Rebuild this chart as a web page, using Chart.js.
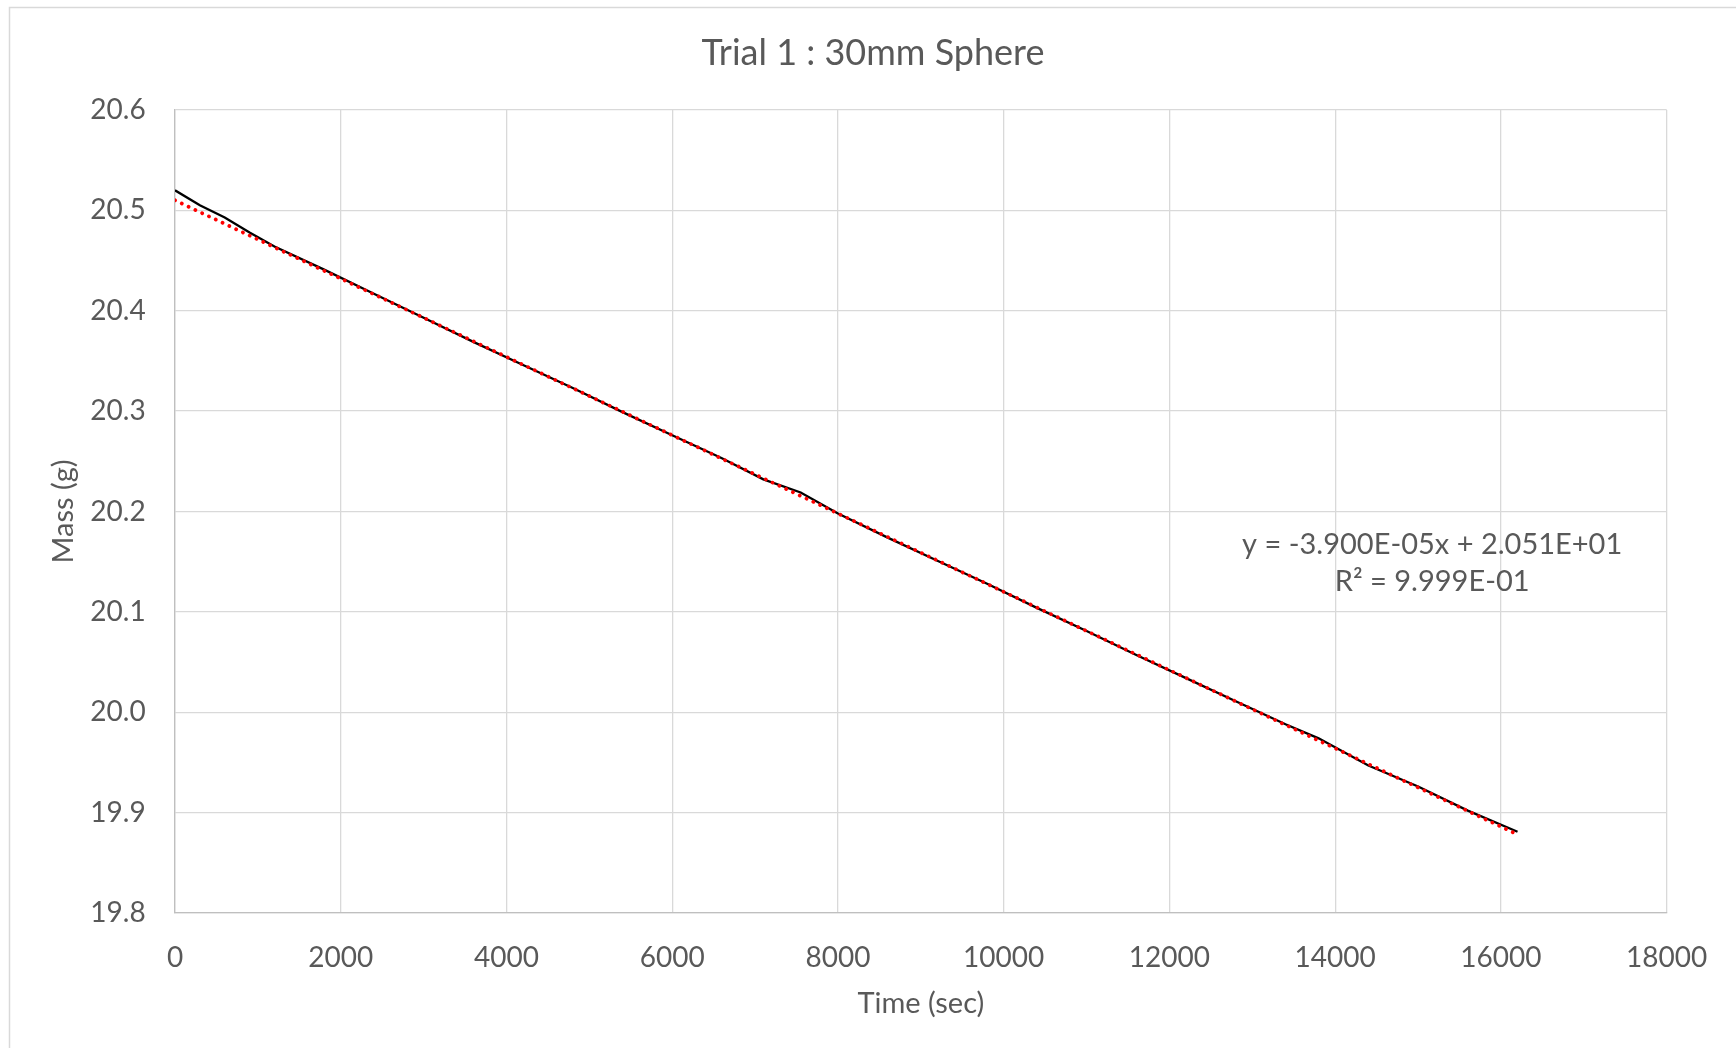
<!DOCTYPE html>
<html>
<head>
<meta charset="utf-8">
<title>Trial 1 : 30mm Sphere</title>
<script src="https://cdn.jsdelivr.net/npm/chart.js@4.4.0/dist/chart.umd.min.js"></script>
<style>
  html, body { margin: 0; padding: 0; background: #fff; }
  #wrap { width: 1736px; height: 1048px; }
</style>
</head>
<body>
<div id="wrap"><canvas id="massChart"></canvas></div>
<script>
// measured mass of the sphere over time
const timeSec = [0, 300, 600, 900, 1200, 1800, 2400, 3000, 3600, 4200, 4800, 5400, 6000, 6600,
  7100, 7550, 8000, 8600, 9200, 9800, 10400, 11000, 11600, 12200, 12800, 13400, 13800,
  14400, 15000, 15600, 16200];
const massG = [20.520, 20.505, 20.493, 20.478, 20.464, 20.441, 20.417, 20.393, 20.369, 20.346,
  20.323, 20.299, 20.276, 20.253, 20.232, 20.219, 20.198, 20.174, 20.151, 20.128, 20.104,
  20.081, 20.057, 20.034, 20.011, 19.988, 19.974, 19.947, 19.926, 19.902, 19.881];

// linear fit, same numbers as the equation label
const fitSlope = -3.900e-05;
const fitIntercept = 2.051e+01;
const fitR2 = 9.999e-01;
const fitRange = [0, 16200];

const xTickValues = [0, 2000, 4000, 6000, 8000, 10000, 12000, 14000, 16000, 18000];
const yTickValues = [19.8, 19.9, 20.0, 20.1, 20.2, 20.3, 20.4, 20.5, 20.6];

const TEXT = "#595959";
const GRID = "#d9d9d9";
const FONT = "Lato, 'Open Sans', sans-serif";

function fmtExp(v) {
  const e = Math.floor(Math.log10(Math.abs(v)));
  const m = (v / Math.pow(10, e)).toFixed(3);
  const sign = e < 0 ? "-" : "+";
  return m + "E" + sign + String(Math.abs(e)).padStart(2, "0");
}

const fitPoints = fitRange.map(x => ({ x, y: fitSlope * x + fitIntercept }));
const dataPoints = timeSec.map((t, i) => ({ x: t, y: massG[i] }));

// outer frame of the chart
const framePlugin = {
  id: "frame",
  beforeDraw(chart) {
    const ctx = chart.ctx;
    ctx.save();
    ctx.fillStyle = "#fff";
    ctx.fillRect(0, 0, chart.width, chart.height);
    ctx.strokeStyle = GRID;
    ctx.lineWidth = 1.5;
    ctx.strokeRect(9.5, 7.5, chart.width + 20, chart.height + 20);
    ctx.restore();
  }
};

// trendline equation text
const equationPlugin = {
  id: "equation",
  afterDatasetsDraw(chart) {
    const { ctx, scales } = chart;
    const px = scales.x.getPixelForValue(15170);
    const py = scales.y.getPixelForValue(20.167);
    const b = fmtExp(fitIntercept);
    ctx.save();
    ctx.font = "29px " + FONT;
    ctx.fillStyle = TEXT;
    ctx.textAlign = "center";
    ctx.textBaseline = "middle";
    ctx.fillText("y = " + fmtExp(fitSlope) + "x + " + b, px, py);
    ctx.fillText("R\u00b2 = " + fmtExp(fitR2), px, py + 37);
    ctx.restore();
  }
};

new Chart(document.getElementById("massChart"), {
  type: "scatter",
  data: {
    datasets: [
      {
        label: "Linear fit",
        data: fitPoints,
        showLine: true,
        borderColor: "#ff0000",
        borderWidth: 3.8,
        borderDash: [0.01, 7.5],
        borderCapStyle: "round",
        pointRadius: 0,
        order: 0
      },
      {
        label: "Mass",
        data: dataPoints,
        showLine: true,
        borderColor: "#000000",
        borderWidth: 2.3,
        tension: 0,
        pointRadius: 0,
        order: 1
      }
    ]
  },
  options: {
    responsive: true,
    maintainAspectRatio: false,
    animation: false,
    devicePixelRatio: 1,
    layout: { padding: { left: 10, right: 0, top: 0, bottom: 0 } },
    plugins: {
      legend: { display: false },
      tooltip: { enabled: false },
      title: {
        display: true,
        text: "Trial 1 : 30mm Sphere",
        color: TEXT,
        font: { family: FONT, size: 36, weight: "normal" },
        padding: { top: 31.4, bottom: 35.4 }
      }
    },
    scales: {
      x: {
        type: "linear",
        min: 0,
        max: 18000,
        afterBuildTicks: s => { s.ticks = xTickValues.map(v => ({ value: v })); },
        afterFit: s => { s.height = 135; },
        grid: { color: GRID, lineWidth: 1.3, drawTicks: false },
        border: { color: "#bfbfbf", width: 1.3 },
        ticks: {
          color: TEXT,
          font: { family: FONT, size: 28 },
          padding: 28,
          maxRotation: 0,
          callback: v => String(v)
        },
        title: {
          display: true,
          text: "Time (sec)",
          color: TEXT,
          font: { family: FONT, size: 29 },
          padding: { top: 0, bottom: 26.6 }
        }
      },
      y: {
        type: "linear",
        min: 19.8,
        max: 20.6,
        afterBuildTicks: s => { s.ticks = yTickValues.map(v => ({ value: v })); },
        afterFit: s => { s.width = 165; },
        grid: { color: GRID, lineWidth: 1.3, drawTicks: false },
        border: { color: "#bfbfbf", width: 1.3 },
        ticks: {
          color: TEXT,
          font: { family: FONT, size: 28 },
          padding: 29.3,
          callback: v => Number(v).toFixed(1)
        },
        title: {
          display: true,
          text: "Mass (g)",
          color: TEXT,
          font: { family: FONT, size: 29 },
          padding: { top: 36.6, bottom: 0 }
        }
      },
      // empty right-hand gutter
      yRight: {
        type: "linear",
        position: "right",
        display: true,
        afterFit: s => { s.width = 69.3; },
        grid: { display: false },
        border: { display: false },
        ticks: { display: false }
      }
    }
  },
  plugins: [framePlugin, equationPlugin]
});
</script>
</body>
</html>
